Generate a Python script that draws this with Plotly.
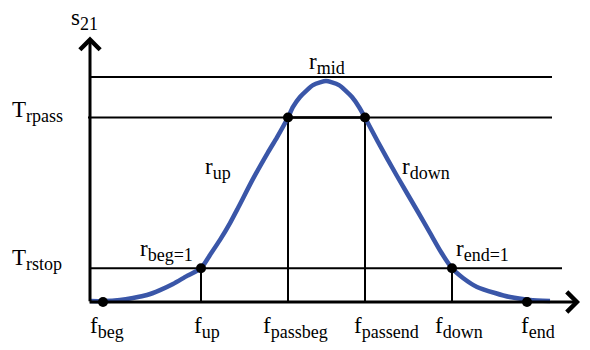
import plotly.graph_objects as go

# s21 curve, frequency in arbitrary units.
curve_f = [0, 1.3, 3.0, 4.3, 5.7, 7.0, 8.3, 9.7, 11.1, 12.0, 13.0, 14.0, 14.8, 16.3,
           17.8, 18.7, 19.8, 20.3, 21.0, 21.7, 22.3, 23.0, 23.6, 24.2, 24.9, 25.5,
           26.2, 26.9, 27.5, 28.8, 30.7, 32.8, 34.0, 35.1, 36.2, 37.3, 38.7, 40.5,
           42.0, 44.0, 46.0]
curve_s21 = [0.004, 0.004, 0.009, 0.018, 0.031, 0.053, 0.08, 0.116, 0.15, 0.209, 0.276,
             0.351, 0.418, 0.547, 0.665, 0.732, 0.82, 0.867, 0.911, 0.942, 0.964, 0.976,
             0.982, 0.976, 0.964, 0.942, 0.911, 0.867, 0.82, 0.711, 0.56, 0.4, 0.307,
             0.222, 0.15, 0.107, 0.067, 0.04, 0.022, 0.009, 0.004]

# Threshold levels and how far each horizontal line runs.
level_names = ["mid", "T_rpass", "T_rstop"]
level_values = [1.0, 0.82, 0.15]
level_start = [0, -0.2, 0]
level_end = [46.2, 46.2, 47.2]

# Characteristic points on the curve.
point_f = [1.3, 11.1, 19.8, 27.5, 36.2, 43.7]
point_s21 = [0, 0.15, 0.82, 0.82, 0.15, 0]
f_labels = ["beg", "up", "passbeg", "passend", "down", "end"]
f_label_pos = [-0.2, 10.2, 17.1, 26.2, 34.3, 42.9]

# Axis extents (arrow tips).
f_axis_max = 49.0
s21_axis_max = 1.18

FONT = "Liberation Serif"
BLUE = "#3a56a8"


def sub(main, s, size=18):
    return f"{main}<sub><span style='font-size:{size}px'>{s}</span></sub>"


fig = go.Figure()

# Horizontal threshold lines.
for lv, x0, x1 in zip(level_values, level_start, level_end):
    fig.add_scatter(x=[x0, x1], y=[lv, lv], mode="lines",
                    line=dict(color="black", width=2), hoverinfo="skip")

# Drop lines from the inner points down to the f axis.
for f, s in zip(point_f[1:5], point_s21[1:5]):
    fig.add_scatter(x=[f, f], y=[s, 0], mode="lines",
                    line=dict(color="black", width=2), hoverinfo="skip")

# Pass band segment drawn a bit heavier.
fig.add_scatter(x=point_f[2:4], y=point_s21[2:4], mode="lines",
                line=dict(color="black", width=2.5), hoverinfo="skip")

fig.add_scatter(x=curve_f, y=curve_s21, mode="lines",
                line=dict(color=BLUE, width=4.5, shape="spline", smoothing=0.6),
                hoverinfo="skip")

fig.add_scatter(x=point_f, y=point_s21, mode="markers",
                marker=dict(color="black", size=10), hoverinfo="skip")

# Axes with open arrow heads.
fig.add_annotation(x=0, y=s21_axis_max, ax=0, ay=-0.003, xref="x", yref="y",
                   axref="x", ayref="y", text="", showarrow=True, arrowhead=4,
                   arrowsize=1.3, arrowwidth=3, arrowcolor="black", standoff=0)
fig.add_annotation(x=f_axis_max, y=0, ax=-0.2, ay=0, xref="x", yref="y",
                   axref="x", ayref="y", text="", showarrow=True, arrowhead=4,
                   arrowsize=1.3, arrowwidth=3, arrowcolor="black", standoff=0)

texts = [
    (sub("s", "21"), -2.1, 1.255),
    (sub("T", "rpass"), -8.0, 0.845),
    (sub("T", "rstop"), -8.0, 0.19),
    (sub("r", "mid"), 21.7, 1.062),
    (sub("r", "up"), 11.3, 0.595),
    (sub("r", "down"), 31.0, 0.595),
    (sub("r", "beg=1"), 4.8, 0.228),
    (sub("r", "end=1"), 36.4, 0.228),
    ("f", 49.4, 0.012),
]
for lbl, pos in zip(f_labels, f_label_pos):
    texts.append((sub("f", lbl), pos, -0.112))

for t, x, y in texts:
    fig.add_annotation(x=x, y=y, xref="x", yref="y", text=t, showarrow=False,
                       xanchor="left", yanchor="middle",
                       font=dict(family=FONT, size=23, color="black"))

# The page body adds an 8px margin, so the figure is 8px smaller on each side.
fig.update_xaxes(range=[-8.2, 50.0], visible=False, fixedrange=True)
fig.update_yaxes(range=[-0.2133, 1.3067], visible=False, fixedrange=True)
fig.update_layout(
    width=582, height=342, autosize=False,
    margin=dict(l=0, r=0, t=0, b=0),
    paper_bgcolor="white", plot_bgcolor="white",
    showlegend=False,
)

fig.write_html("out.html")
